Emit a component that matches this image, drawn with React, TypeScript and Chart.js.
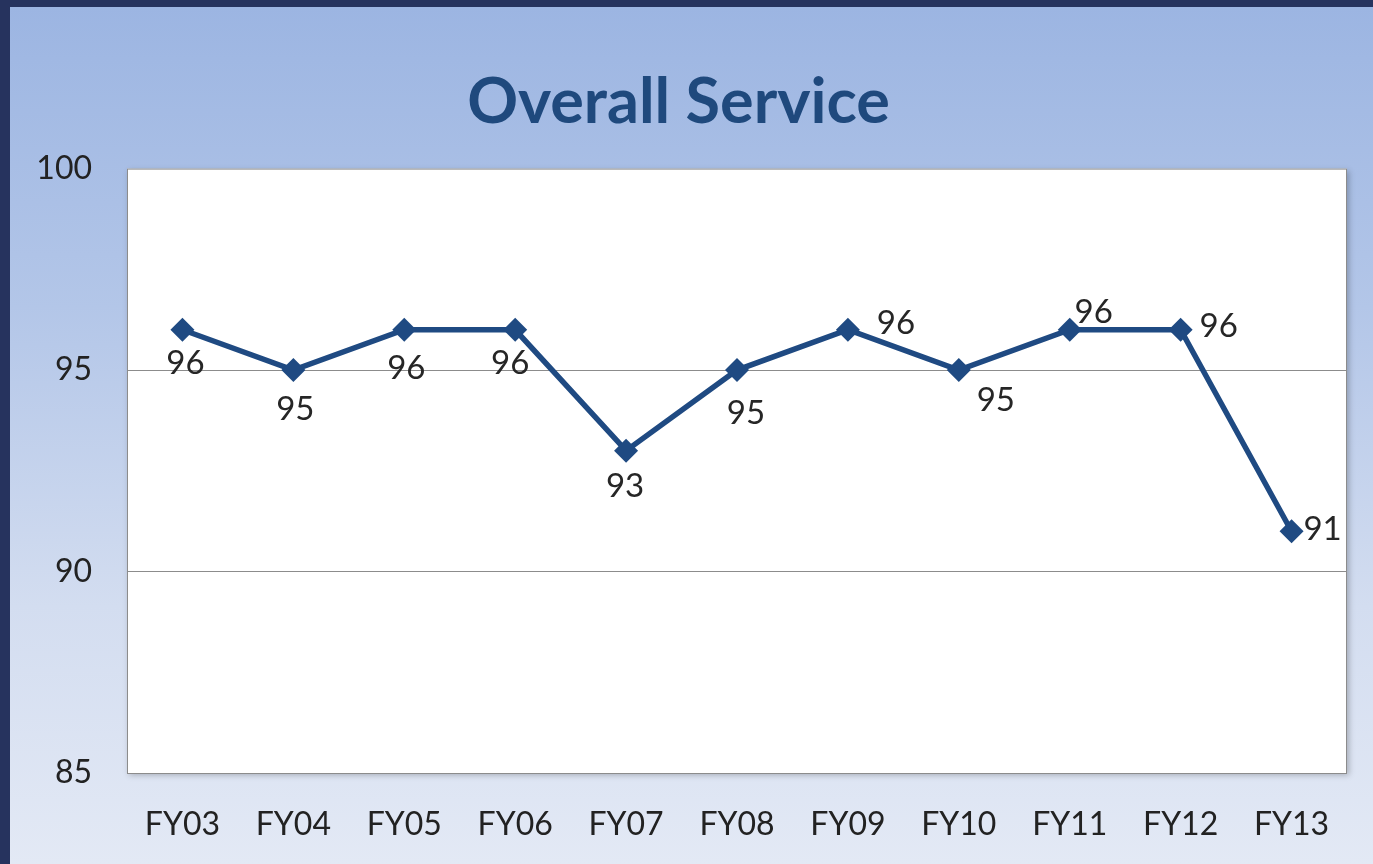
import React, { useEffect, useRef } from "react";
import { Chart, registerables } from "chart.js";

Chart.register(...registerables);

const categories = ["FY03", "FY04", "FY05", "FY06", "FY07", "FY08", "FY09", "FY10", "FY11", "FY12", "FY13"];
const overallService = [96, 95, 96, 96, 93, 95, 96, 95, 96, 96, 91];
const yTicks = [85, 90, 95, 100];

// label offsets (style only): dx, dy from point center
const labelOffsets: [number, number][] = [
  [3, 34], [2, 39], [2, 39], [-5, 34], [-1, 36], [9, 43], [48, -6], [37, 30], [24, -17], [38, -3], [31, -2],
];

const FONT = "Lato, 'Open Sans', sans-serif";
const LINE_COLOR = "#1F4A82";

const plotBgPlugin = {
  id: "plotBg",
  beforeDraw(chart: any) {
    const { ctx, chartArea } = chart;
    const { left, top, right, bottom } = chartArea;
    ctx.save();
    ctx.shadowColor = "rgba(0,0,0,0.25)";
    ctx.shadowBlur = 6;
    ctx.shadowOffsetX = 2;
    ctx.shadowOffsetY = 2;
    ctx.fillStyle = "#ffffff";
    ctx.fillRect(left, top, right - left, bottom - top);
    ctx.restore();
    ctx.save();
    ctx.strokeStyle = "#8c8c8c";
    ctx.lineWidth = 1;
    ctx.strokeRect(left + 0.5, top + 0.5, right - left - 1, bottom - top);
    ctx.restore();
  },
};

const dataLabelPlugin = {
  id: "dataLabels",
  afterDatasetsDraw(chart: any) {
    const { ctx } = chart;
    const meta = chart.getDatasetMeta(0);
    ctx.save();
    ctx.font = `33px ${FONT}`;
    ctx.fillStyle = "#262626";
    ctx.textAlign = "center";
    ctx.textBaseline = "middle";
    meta.data.forEach((pt: any, i: number) => {
      const [dx, dy] = labelOffsets[i];
      ctx.fillText(String(overallService[i]), pt.x + dx, pt.y + dy);
    });
    ctx.restore();
  },
};

function LineChart() {
  const ref = useRef<HTMLCanvasElement>(null);
  useEffect(() => {
    if (!ref.current) return;
    const chart = new Chart(ref.current, {
      type: "line",
      data: {
        labels: categories,
        datasets: [
          {
            label: "Overall Service",
            data: overallService,
            borderColor: LINE_COLOR,
            backgroundColor: LINE_COLOR,
            borderWidth: 5.5,
            pointStyle: "rectRot",
            pointRadius: 12,
            pointBorderWidth: 0,
            tension: 0,
          },
        ],
      },
      options: {
        animation: false,
        responsive: true,
        maintainAspectRatio: false,
        layout: { padding: { left: 0, right: 26, top: 0, bottom: 0 } },
        plugins: {
          legend: { display: false },
          tooltip: { enabled: false },
          title: {
            display: true,
            text: "Overall Service",
            color: "#1F497D",
            font: { family: FONT, size: 63, weight: "bold", lineHeight: 1.2 },
            padding: { top: 58, bottom: 28 },
          },
        },
        scales: {
          x: {
            offset: true,
            grid: { display: false, drawTicks: false },
            border: { display: false },
            ticks: {
              color: "#222",
              font: { family: FONT, size: 32 },
              padding: 32,
              maxRotation: 0,
            },
            afterFit(scale: any) {
              scale.height = 91;
            },
          },
          y: {
            min: 85,
            max: 100,
            afterBuildTicks(scale: any) {
              scale.ticks = yTicks.map((v) => ({ value: v }));
            },
            grid: {
              color: (c: any) => (c.tick && (c.tick.value === 90 || c.tick.value === 95) ? "#8c8c8c" : "rgba(0,0,0,0)"),
              lineWidth: 1,
              drawTicks: false,
            },
            border: { display: false },
            ticks: {
              color: "#222",
              font: { family: FONT, size: 32 },
              padding: 35,
            },
            afterFit(scale: any) {
              scale.width = 117;
            },
          },
        },
      },
      plugins: [plotBgPlugin, dataLabelPlugin],
    });
    return () => chart.destroy();
  }, []);
  return <canvas ref={ref} />;
}

export default function App() {
  return (
    <div
      style={{
        position: "fixed",
        left: 0,
        top: 0,
        width: 1373,
        height: 864,
        background: "#26335e",
        overflow: "hidden",
      }}
    >
      <div
        style={{
          position: "absolute",
          left: 10,
          top: 7,
          width: 1363,
          height: 857,
          background: "linear-gradient(to bottom, #9cb5e2 0%, #b3c6e8 35%, #d3ddf0 70%, #e3e9f5 100%)",
        }}
      >
        <LineChart />
      </div>
    </div>
  );
}
